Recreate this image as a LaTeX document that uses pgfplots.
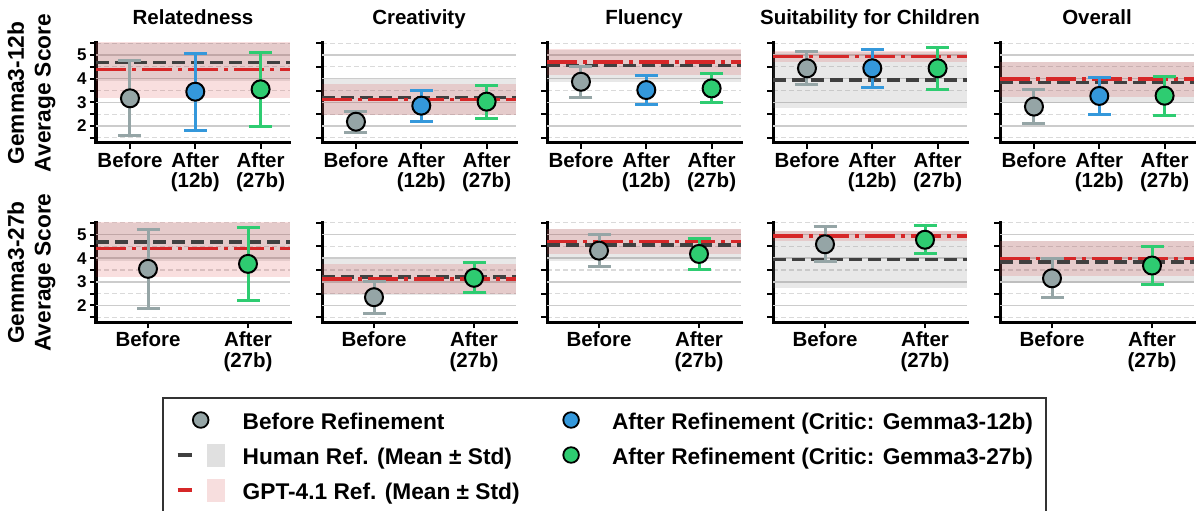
\documentclass[border=0pt]{standalone}
\usepackage{fontspec}
\setmainfont{Liberation Sans}
\usepackage{pgfplots}
\pgfplotsset{compat=1.18}

\definecolor{cBefore}{HTML}{95A5A6}
\definecolor{c12}{HTML}{3498DB}
\definecolor{c27}{HTML}{2ECC71}
\definecolor{hline}{HTML}{404040}
\definecolor{gline}{HTML}{D62728}
\definecolor{hbandc}{HTML}{808080}
\definecolor{gridc}{HTML}{CCCCCC}
\definecolor{gridm}{HTML}{DADADA}
\definecolor{hleg}{HTML}{E0E0E0}
\definecolor{gleg}{HTML}{F7DEDE}

\newcommand{\ttfont}{\fontsize{20.5bp}{24bp}\selectfont\bfseries}
\newcommand{\xtfont}{\fontsize{20.5bp}{20.5bp}\selectfont\bfseries}
\newcommand{\ytfont}{\fontsize{17bp}{20bp}\selectfont\bfseries}
\newcommand{\ylfont}{\fontsize{22.7bp}{26.7bp}\selectfont\bfseries}
\newcommand{\lgfont}{\fontsize{22.7bp}{26bp}\selectfont\bfseries}

% #1 xmin #2 xmax #3 hmean #4 hlo #5 hhi #6 gmean #7 glo #8 ghi
\newcommand{\refs}[8]{%
 \addplot[draw=none, fill=hbandc, fill opacity=0.18, forget plot] coordinates {(#1,#4) (#2,#4) (#2,#5) (#1,#5)} -- cycle;
 \addplot[draw=none, fill=gline, fill opacity=0.15, forget plot] coordinates {(#1,#7) (#2,#7) (#2,#8) (#1,#8)} -- cycle;
 \addplot[hline, line width=3.4bp, dash pattern=on 13bp off 6bp, forget plot] coordinates {(#1,#3) (#2,#3)};
 \addplot[gline, line width=3.4bp, dash pattern=on 30bp off 6bp on 4bp off 6bp, forget plot] coordinates {(#1,#6) (#2,#6)};
}

\newcommand{\legcircle}[1]{\path[draw=none,fill=none] (0,-5bp) rectangle (46bp,19.5bp); \draw[fill=#1, draw=black, line width=1.8bp, solid] (23bp,9bp) circle (7.8bp);}
\newcommand{\legref}[2]{\path[draw=none,fill=none] (0,-5bp) rectangle (46bp,19.5bp); \draw[#1, line width=3.4bp, solid] (0,9bp) -- (14bp,9bp); \fill[#2] (30bp,-1.5bp) rectangle (46bp,19.5bp);}

\pgfplotsset{
 pt/.style={only marks, mark=*, mark size=9bp,
   mark options={fill=#1, draw=black, line width=2bp, solid},
   error bars/.cd, y dir=both, y explicit,
   error bar style={line width=3bp, color=#1, solid},
   error mark options={rotate=90, mark size=11.5bp, line width=3bp, color=#1}},
 panel/.style={
  scale only axis, width=194bp, height=100bp, anchor=north west,
  ymin=1.28, ymax=5.51,
  axis x line*=bottom, axis y line*=left,
  axis line style={line width=3bp, -, line cap=rect},
  tick align=outside, major tick length=6bp,
  tick style={line width=2bp, color=black},
  ytick={1.5,2.5,3.5,4.5,5.5}, yticklabels={},
  ymajorgrids,
  major grid style={dash pattern=on 5bp off 3bp, color=gridm, line width=1.2bp},
  extra y ticks={2,3,4,5},
  extra y tick labels={},
  extra y tick style={grid=major, major grid style={solid, color=gridc, line width=1.5bp}, tick style={draw=none}},
  xticklabel style={font=\xtfont, align=center},
  yticklabel style={font=\ytfont},
  every axis title/.style={at={(0.5,1)}, anchor=base, yshift=18bp, font=\ttfont},
  every axis y label/.style={at={(axis description cs:-0.208,0.5)}, anchor=south, rotate=90, align=center, font=\ylfont, inner sep=0pt},
  clip=true,
 },
 toprow/.style={xmin=-0.52, xmax=2.45, xtick={0,1,2}, xticklabels={Before, After\\(12b), After\\(27b)}},
 botrow/.style={xmin=-0.52, xmax=1.42, xtick={0,1}, xticklabels={Before, After\\(27b)}},
 ylabs/.style={extra y tick labels={2,3,4,5}, extra y tick style={tick style={draw=black, line width=2bp}}},
}

\begin{document}
\begin{tikzpicture}
\useasboundingbox (0,0) rectangle (1197bp,511bp);

% ---------------- top row (critic Gemma3-12b) ----------------
\begin{axis}[panel, toprow, ylabs, at={(96bp,468bp)}, title={Relatedness}, ylabel={Gemma3-12b\\Average Score}]
\refs{-0.52}{2.45}{4.69}{3.89}{5.49}{4.40}{3.20}{5.60}
\addplot[pt=cBefore] coordinates {(0,3.17) +- (0,1.58)};
\addplot[pt=c12] coordinates {(1,3.45) +- (0,1.63)};
\addplot[pt=c27] coordinates {(2,3.55) +- (0,1.56)};
\end{axis}

\begin{axis}[panel, toprow, at={(322bp,468bp)}, title={Creativity}]
\refs{-0.52}{2.45}{3.21}{2.45}{3.97}{3.12}{2.48}{3.76}
\addplot[pt=cBefore] coordinates {(0,2.18) +- (0,0.44)};
\addplot[pt=c12] coordinates {(1,2.86) +- (0,0.66)};
\addplot[pt=c27] coordinates {(2,3.03) +- (0,0.70)};
\end{axis}

\begin{axis}[panel, toprow, at={(547bp,468bp)}, title={Fluency}]
\refs{-0.52}{2.45}{4.55}{3.87}{5.23}{4.70}{4.16}{5.24}
\addplot[pt=cBefore] coordinates {(0,3.87) +- (0,0.65)};
\addplot[pt=c12] coordinates {(1,3.52) +- (0,0.61)};
\addplot[pt=c27] coordinates {(2,3.59) +- (0,0.61)};
\end{axis}

\begin{axis}[panel, toprow, at={(773bp,468bp)}, title={Suitability for Children}]
\refs{-0.52}{2.45}{3.94}{2.75}{5.13}{4.94}{4.72}{5.17}
\addplot[pt=cBefore] coordinates {(0,4.44) +- (0,0.70)};
\addplot[pt=c12] coordinates {(1,4.44) +- (0,0.81)};
\addplot[pt=c27] coordinates {(2,4.44) +- (0,0.88)};
\end{axis}

\begin{axis}[panel, toprow, at={(1000bp,468bp)}, title={Overall}]
\refs{-0.52}{2.45}{3.84}{2.96}{4.72}{3.98}{3.24}{4.72}
\addplot[pt=cBefore] coordinates {(0,2.82) +- (0,0.71)};
\addplot[pt=c12] coordinates {(1,3.27) +- (0,0.80)};
\addplot[pt=c27] coordinates {(2,3.28) +- (0,0.83)};
\end{axis}

% ---------------- bottom row (critic Gemma3-27b) ----------------
\begin{axis}[panel, botrow, ylabs, at={(96bp,288.5bp)}, ylabel={Gemma3-27b\\Average Score}]
\refs{-0.52}{1.42}{4.69}{3.89}{5.49}{4.40}{3.20}{5.60}
\addplot[pt=cBefore] coordinates {(0,3.55) +- (0,1.67)};
\addplot[pt=c27] coordinates {(1,3.76) +- (0,1.53)};
\end{axis}

\begin{axis}[panel, botrow, at={(322bp,288.5bp)}]
\refs{-0.52}{1.42}{3.21}{2.45}{3.97}{3.12}{2.48}{3.76}
\addplot[pt=cBefore] coordinates {(0,2.35) +- (0,0.67)};
\addplot[pt=c27] coordinates {(1,3.17) +- (0,0.63)};
\end{axis}

\begin{axis}[panel, botrow, at={(547bp,288.5bp)}]
\refs{-0.52}{1.42}{4.55}{3.87}{5.23}{4.70}{4.16}{5.24}
\addplot[pt=cBefore] coordinates {(0,4.32) +- (0,0.68)};
\addplot[pt=c27] coordinates {(1,4.18) +- (0,0.67)};
\end{axis}

\begin{axis}[panel, botrow, at={(773bp,288.5bp)}]
\refs{-0.52}{1.42}{3.94}{2.75}{5.13}{4.94}{4.72}{5.17}
\addplot[pt=cBefore] coordinates {(0,4.59) +- (0,0.74)};
\addplot[pt=c27] coordinates {(1,4.78) +- (0,0.60)};
\end{axis}

\begin{axis}[panel, botrow, at={(1000bp,288.5bp)}]
\refs{-0.52}{1.42}{3.84}{2.96}{4.72}{3.98}{3.24}{4.72}
\addplot[pt=cBefore] coordinates {(0,3.15) +- (0,0.83)};
\addplot[pt=c27] coordinates {(1,3.69) +- (0,0.79)};
\end{axis}

% ---------------- legend ----------------
\begin{axis}[at={(162bp,114bp)}, anchor=north west, scale only axis, width=100bp, height=20bp,
  hide axis, xmin=0, xmax=1, ymin=0, ymax=1,
  legend columns=2, legend cell align=left,
  legend style={at={(0,1)}, anchor=north west, draw=black!80, line width=2bp, fill=white,
    inner xsep=13bp, inner ysep=11.5bp, font=\lgfont, row sep=9.5bp,
    cells={anchor=base west},
    nodes={inner sep=0bp, text height=16.5bp, text depth=5bp},
    /tikz/every odd column/.append style={column sep=18bp},
    /tikz/column 2/.append style={column sep=28.5bp}}]
\addlegendimage{legend image code/.code={\legcircle{cBefore}}}
\addlegendentry{Before Refinement}
\addlegendimage{legend image code/.code={\legcircle{c12}}}
\addlegendentry{After Refinement (Critic: Gemma3-12b)}
\addlegendimage{legend image code/.code={\legref{hline}{hleg}}}
\addlegendentry{Human Ref. (Mean ± Std)}
\addlegendimage{legend image code/.code={\legcircle{c27}}}
\addlegendentry{After Refinement (Critic: Gemma3-27b)}
\addlegendimage{legend image code/.code={\legref{gline}{gleg}}}
\addlegendentry{GPT-4.1 Ref. (Mean ± Std)}
\end{axis}
\end{tikzpicture}
\end{document}
